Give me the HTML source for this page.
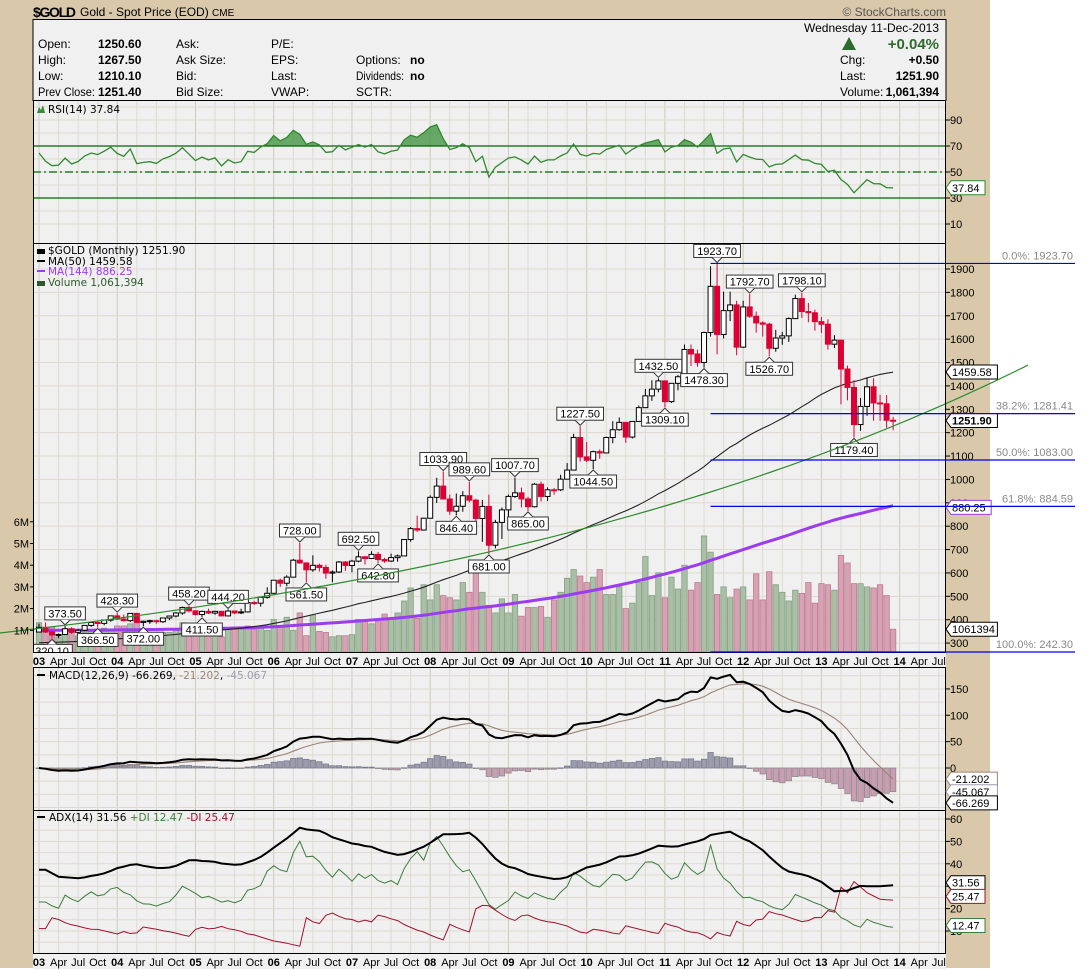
<!DOCTYPE html>
<html><head><meta charset="utf-8"><title>$GOLD Monthly Chart</title>
<style>
body{margin:0;background:#fff;}
svg{display:block;font-family:"Liberation Sans",Arial,sans-serif;}
.lg{font-family:"DejaVu Sans","Liberation Sans",sans-serif;font-size:10.5px;}
.ax{font-size:11px;fill:#000;}
</style></head>
<body>
<svg id="chart" width="1090" height="970" viewBox="0 0 1090 970">
  <rect x="0" y="0" width="1090" height="970" fill="#ffffff"/>
  <rect x="0" y="0" width="990" height="968" fill="#d9c9aa"/>
  <g>
    <text x="33" y="17" font-size="14" font-weight="bold" textLength="43">$GOLD</text>
    <text x="80" y="16" font-size="12">Gold - Spot Price (EOD) <tspan font-size="10">CME</tspan></text>
    <text x="946" y="16" font-size="12" fill="#555" text-anchor="end">© StockCharts.com</text>
  </g>
  <g>
    <rect x="33" y="19.5" width="913" height="81" fill="#f0f0f0" stroke="#000"/>
    <g font-size="12">
      <text x="38" y="48">Open:</text><text x="98" y="48" font-weight="bold">1250.60</text>
      <text x="38" y="64">High:</text><text x="98" y="64" font-weight="bold">1267.50</text>
      <text x="38" y="80">Low:</text><text x="98" y="80" font-weight="bold">1210.10</text>
      <text x="38" y="96" textLength="57" lengthAdjust="spacingAndGlyphs">Prev Close:</text><text x="98" y="96" font-weight="bold">1251.40</text>
      <text x="176" y="48">Ask:</text><text x="176" y="64">Ask Size:</text><text x="176" y="80">Bid:</text><text x="176" y="96">Bid Size:</text>
      <text x="271" y="48">P/E:</text><text x="271" y="64">EPS:</text><text x="271" y="80">Last:</text><text x="271" y="96">VWAP:</text>
      <text x="356" y="64">Options:</text><text x="410" y="64" font-weight="bold">no</text>
      <text x="356" y="80" textLength="48" lengthAdjust="spacingAndGlyphs">Dividends:</text><text x="410" y="80" font-weight="bold">no</text>
      <text x="356" y="96">SCTR:</text>
      <text x="939" y="32" text-anchor="end">Wednesday  11-Dec-2013</text>
      <text x="939" y="49" text-anchor="end" font-size="15" font-weight="bold" fill="#2d6b2d">+0.04%</text>
      <text x="840" y="64">Chg:</text><text x="939" y="64" text-anchor="end" font-weight="bold">+0.50</text>
      <text x="840" y="80">Last:</text><text x="939" y="80" text-anchor="end" font-weight="bold">1251.90</text>
      <text x="840" y="96">Volume:</text><text x="939" y="96" text-anchor="end" font-weight="bold">1,061,394</text>
    </g>
    <polygon points="849,37 842,50 856,50" fill="#2d6b2d"/>
  </g>
  <g id="rsiP"></g>
  <g id="mainP"></g>
  <g id="macdP"></g>
  <g id="adxP"></g>
  <g id="fibG"></g>
</svg>
<script>
// ---------- DATA (monthly, Jan 2003 .. Dec 2013) ----------
const firstOpen = 347.2;
const closes = [
367.5,347.5,334.9,336.8,361.4,346.0,354.8,375.6,388.0,384.3,398.4,416.3,
402.7,396.0,426.9,388.5,393.3,395.8,391.4,407.3,415.7,428.7,452.5,438.0,
422.2,435.5,428.6,435.7,416.2,437.1,429.0,433.3,473.3,470.8,495.7,513.0,
568.8,556.0,582.0,654.5,643.0,613.5,632.5,623.5,599.3,604.0,646.7,632.0,
650.5,669.0,661.8,679.4,657.4,650.9,665.5,672.7,743.0,789.5,783.5,834.0,
923.3,971.5,916.2,864.3,885.2,930.3,911.3,833.0,884.5,718.5,816.2,869.8,
927.3,942.5,916.5,883.2,979.5,927.2,955.6,955.5,1001.0,1040.0,1179.5,1096.2,
1081.8,1118.7,1113.3,1179.2,1212.5,1244.0,1181.2,1248.0,1307.0,1357.3,1386.1,1421.4,
1332.8,1411.0,1439.0,1556.0,1536.6,1500.2,1628.3,1826.0,1620.0,1722.0,1746.4,1565.8,
1737.8,1697.9,1669.3,1664.0,1560.9,1604.8,1614.0,1687.9,1773.5,1718.0,1712.8,1675.0,
1663.8,1578.5,1595.7,1472.2,1393.5,1234.6,1312.4,1396.1,1327.0,1323.6,1253.0,1251.9];
const highs = [
383.4,388.4,352.0,341.0,373.5,368.0,361.0,376.9,390.0,392.0,400.5,417.3,
428.3,422.0,428.0,427.3,396.0,399.5,399.7,409.0,415.9,432.0,456.0,458.2,
439.2,438.9,447.0,438.2,435.0,444.2,438.0,447.0,473.5,481.0,499.0,539.0,
569.8,576.0,590.0,660.0,728.0,643.0,675.0,640.0,635.0,611.0,651.0,651.0,
656.0,692.5,672.0,693.0,690.0,665.0,683.0,679.0,743.5,796.0,845.0,836.0,
932.0,1007.0,1033.9,935.0,940.0,950.0,989.6,917.0,912.0,935.0,827.0,880.0,
935.0,1007.7,965.0,926.0,985.0,991.0,966.0,963.0,1020.0,1070.0,1195.0,1227.5,
1160.0,1123.0,1128.0,1183.0,1249.0,1265.0,1211.0,1250.0,1316.0,1387.0,1424.0,1432.5,
1423.0,1412.0,1447.0,1577.0,1577.0,1555.0,1632.0,1912.0,1923.7,1803.0,1803.0,1764.0,
1764.0,1792.7,1718.0,1676.0,1670.0,1640.0,1631.0,1693.0,1790.0,1798.1,1755.0,1726.0,
1695.0,1685.0,1617.0,1597.0,1487.0,1424.0,1348.0,1434.0,1433.0,1362.0,1361.0,1267.5];
const lows = [
352.0,344.0,320.1,321.0,334.0,339.0,342.0,351.0,369.0,366.5,376.0,391.0,
399.0,392.0,390.0,385.0,372.0,382.0,383.0,386.0,398.0,410.0,421.0,431.0,
418.0,411.5,424.0,421.0,416.0,414.0,424.0,424.0,431.0,463.0,456.0,490.0,
516.0,540.0,543.0,583.0,639.0,561.5,605.0,606.0,575.0,560.0,600.0,609.0,
603.0,646.0,636.0,668.0,642.8,643.5,647.0,648.0,674.0,733.0,776.0,781.0,
845.0,899.0,914.0,849.0,846.4,862.0,902.0,786.0,733.0,681.0,705.0,745.0,
802.0,921.0,880.0,865.0,880.0,906.0,908.0,935.0,950.0,1000.0,1044.0,1076.0,
1074.0,1044.5,1088.0,1111.0,1155.0,1208.0,1156.0,1175.0,1247.0,1316.0,1336.0,1373.0,
1309.1,1327.0,1381.0,1422.0,1485.0,1482.0,1478.3,1611.0,1535.0,1603.0,1677.0,1531.0,
1563.0,1691.0,1628.0,1611.0,1526.7,1546.0,1576.0,1588.0,1689.0,1691.0,1672.0,1636.0,
1626.0,1555.0,1562.0,1321.0,1338.0,1179.4,1208.0,1272.0,1251.0,1251.0,1221.0,1210.1];
const volumesM = [
1.35,0.9,1.15,0.7,0.75,0.9,0.75,0.9,1.0,0.9,1.1,1.0,
1.2,1.2,1.3,1.5,1.0,0.8,0.8,0.9,0.9,1.0,1.35,1.3,
1.3,1.0,0.9,1.3,0.7,1.1,1.05,1.1,1.2,1.05,1.2,1.0,
1.5,1.2,1.6,1.0,1.8,0.75,1.7,0.95,0.9,0.7,0.75,0.75,
0.8,1.5,1.45,1.3,
1.4,1.75,1.5,1.8,2.35,2.95,1.55,3.1,2.4,3.1,
2.6,2.5,2.4,3.2,2.75,3.8,2.75,2.15,1.8,2.45,
1.8,2.65,1.65,2.05,2.05,2.1,1.6,2.4,2.75,3.4,
3.8,3.5,3.2,3.45,3.8,2.65,2.65,3.0,2.0,2.25,
3.2,4.4,2.6,3.65,2.5,3.45,2.9,4.0,2.85,3.2,
5.35,4.6,2.65,3.0,2.5,2.9,3.0,2.4,3.6,2.4,
3.7,3.1,2.75,2.35,2.85,2.7,3.2,2.25,3.15,3.1,
2.85,4.45,4.1,3.15,3.15,3.0,2.95,3.1,2.6,1.05];
const annotHighIdx = [4,12,23,29,40,49,62,66,73,83,95,104,109,117];
const annotLowIdx  = [2,9,16,25,41,52,64,69,75,85,96,102,112,125];
const ma50Pad = 300, ma144Pad = 355;
const trendIdx = [-6, 151.7];
const trendPrice = [343, 1489];
const fibHigh = 1923.7, fibLow = 242.3, fibStartIdx = 103;
const fibLevels = [0, 0.382, 0.5, 0.618, 1];
const priceTicks = [300,400,500,600,700,800,900,1000,1100,1200,1300,1400,1500,1600,1700,1800,1900];
const volTicks = [1,2,3,4,5,6];
const rsiTicks = [10,30,50,70,90];
const macdTicks = [0,50,100,150];
const adxTicks = [10,20,30,40,50,60];
const rsiLastLabel = ['37.84'];
const priceLabels = ['1459.58','1251.90','880.25'];
const macdLabels = ['-21.202','-45.067','-66.269'];
const adxLabels = ['31.56','25.47','12.47'];
const yearNames = ['03','04','05','06','07','08','09','10','11','12','13','14'];
const quarterNames = ['Apr','Jul','Oct'];

// ---------- SCALES ----------
const X0 = 39, STEP = 6.52, NMON = 140;
const xi = i => X0 + STEP * i;
const yP = p => 269 + (1900 - p) * 0.2338;
const yV = v => 652 - v * 21.7;
const yR = v => 237 - 1.3 * v;
const yM = v => 768 - 0.527 * v;
const yA = v => 953.4 - 2.24 * v;
const L = 33, R = 946;

const NS = 'http://www.w3.org/2000/svg';
function mk(tag, attrs, parent){const e=document.createElementNS(NS,tag);for(const k in attrs)e.setAttribute(k,attrs[k]);parent.appendChild(e);return e;}
function tx(x,y,s,attrs,parent){const e=mk('text',Object.assign({x:x,y:y},attrs),parent);e.textContent=s;return e;}
const svg = document.getElementById('chart');
const n = closes.length;
const opens = closes.map((c,i)=> i===0 ? firstOpen : closes[i-1]);

// ---------- INDICATORS ----------
function maCalc(len,pad){return closes.map((c,i)=>{let s=0;for(let k=i-len+1;k<=i;k++)s+=(k<0?pad:closes[k]);return s/len;});}
const ma50 = maCalc(50,ma50Pad), ma144 = maCalc(144,ma144Pad);
const rsi=[]; {let ag=0,al=0;for(let k=1;k<=14;k++){const d=closes[k]-closes[k-1];if(d>0)ag+=d;else al-=d;}ag/=14;al/=14;
 for(let i=0;i<n;i++){if(i>0){const d=closes[i]-closes[i-1];ag=(ag*13+Math.max(d,0))/14;al=(al*13+Math.max(-d,0))/14;}rsi.push(100-100/(1+ag/al));}}
const macd=[],sig=[],hist=[]; {let e12=closes[0],e26=closes[0],s=0;
 for(let i=0;i<n;i++){e12=closes[i]*2/13+e12*11/13;e26=closes[i]*2/27+e26*25/27;const m=e12-e26;s=i===0?m:m*0.2+s*0.8;macd.push(m);sig.push(s);hist.push(m-s);}}
const adx=[],pdi=[],mdi=[]; {
 const tr=[],pd=[],md=[];
 for(let i=1;i<n;i++){const h=highs[i],l=lows[i],cp=closes[i-1];tr.push(Math.max(h-l,Math.abs(h-cp),Math.abs(l-cp)));
  const up=h-highs[i-1],dn=lows[i-1]-l;pd.push(up>dn&&up>0?up:0);md.push(dn>up&&dn>0?dn:0);}
 let a=0,p=0,m=0;for(let k=0;k<14;k++){a+=tr[k];p+=pd[k];m+=md[k];}a/=14;p/=14;m/=14;
 const dxs=[];
 for(let k=0;k<tr.length;k++){a=(a*13+tr[k])/14;p=(p*13+pd[k])/14;m=(m*13+md[k])/14;const P=100*p/a,M=100*m/a;pdi.push(P);mdi.push(M);dxs.push(100*Math.abs(P-M)/(P+M||1));}
 let ax=0;for(let k=0;k<14;k++)ax+=dxs[k];ax/=14;const out=[];
 for(let k=0;k<dxs.length;k++){ax=(ax*13+dxs[k])/14;out.push(ax);}
 adx.push(out[0]);pdi.unshift(pdi[0]);mdi.unshift(mdi[0]);out.forEach(v=>adx.push(v));
}

// ---------- PANEL FRAMEWORK ----------
function panel(g,top,bot,name){
  const bg=mk('rect',{x:L,y:top,width:R-L,height:bot-top,fill:'#f0f0f0'},g);
  
  
  for(let i=0;i<NMON;i+=3){const ln=mk('line',{x1:xi(i),x2:xi(i),y1:top,y2:bot,stroke:i%12===0?'#cfcabb':'#dedad0','stroke-width':1},g);
    
    }
  const cp=mk('clipPath',{id:'clip-'+name},g);mk('rect',{x:L,y:top,width:R-L,height:bot-top},cp);
  const inner=mk('g',{'clip-path':'url(#clip-'+name+')'},g);
  
  
  return inner;
}
function hgrid(g,y){const ln=mk('line',{x1:L,x2:R,y1:y,y2:y,stroke:'#dedad0'},g);
  
  }
function frame(g,top,bot,name){const f=mk('rect',{x:L+0.5,y:top+0.5,width:R-L-1,height:bot-top,fill:'none',stroke:'#000'},g);
  
  }
function yTick(g,y,label){const t=mk('line',{x1:R,x2:R+4,y1:y,y2:y,stroke:'#000'},g);
  
  
  const s=tx(R+4,y+4,label,{class:'ax'},g);
  
  }
function valBox(g,y,label,stroke,bold){const w=label.length*6.2+8;
  const p=mk('polygon',{points:`${R},${y} ${R+5},${y-7} ${R+w},${y-7} ${R+w},${y+7} ${R+5},${y+7}`,fill:'#fff',stroke:stroke},g);
  
  
  const s=tx(R+6,y+4,label,{class:'ax','font-weight':bold?'bold':'normal'},g);
  
  }
function polyPath(vals,fy,start){let d='';for(let i=start||0;i<vals.length;i++){d+=(d?'L':'M')+xi(i).toFixed(1)+','+fy(vals[i]).toFixed(1);}return d;}
function xLabels(g,y){
  const bgRow=mk('rect',{x:L,y:y-12,width:R-L,height:15,fill:'#f0f0f0'},g);
  
  
  for(let i=0;i<NMON;i+=3){const isY=i%12===0;const lab=isY?yearNames[i/12]:quarterNames[(i%12)/3-1];
    const s=tx(xi(i),y,lab,{class:'ax','text-anchor':'middle','font-weight':isY?'bold':'normal','font-size':isY?12:11},g);
    
    }
}

// ---------- RSI PANEL ----------
{const g=document.getElementById('rsiP');const top=100,bot=243;const pa=panel(g,top,bot,'rsi');
 for(let v=10;v<=100;v+=10)hgrid(pa,yR(v));
 const cpa=mk('clipPath',{id:'rsiOB'},g);mk('rect',{x:L,y:top,width:R-L,height:yR(70)-top},cpa);
 const area=mk('path',{d:'M'+xi(0)+','+yR(70)+polyPath(rsi,yR).replace(/^M/,'L')+'L'+xi(n-1)+','+yR(70)+'Z',fill:'#4f9a4f',opacity:0.85,'clip-path':'url(#rsiOB)'},pa);
 
 
 [70,30].forEach(v=>{const l=mk('line',{x1:L,x2:R,y1:yR(v),y2:yR(v),stroke:'#006600','stroke-width':1.3},pa);
   
   });
 const mid=mk('line',{x1:L,x2:R,y1:yR(50),y2:yR(50),stroke:'#006600','stroke-width':1.2,'stroke-dasharray':'8,3,2,3'},pa);
 
 
 const ln=mk('path',{d:polyPath(rsi,yR),fill:'none',stroke:'#2f8a2f','stroke-width':1.3},pa);
 
 
 frame(g,top,bot,'rsi');
 rsiTicks.forEach(v=>yTick(g,yR(v),String(v)));
 valBox(g,yR(parseFloat(rsiLastLabel[0])),rsiLastLabel[0],'#2f8a2f',false);
 const ic=mk('path',{d:'M37,113 L39,107 L41,110 L43,105 L45,113 Z',fill:'#3a8a3a'},g);
 
 
 const lt=tx(48,113,'RSI(14) 37.84',{class:'lg'},g);
 
 
}

// ---------- PRICE PANEL ----------
{const g=document.getElementById('mainP');const top=243,bot=652;const pa=panel(g,top,bot,'price');
 priceTicks.forEach(p=>hgrid(pa,yP(p)));
 volumesM.forEach((v,i)=>{const up=i===0?true:closes[i]>=closes[i-1];
   const b=mk('rect',{x:xi(i)-2.7,y:yV(v),width:5.4,height:bot-yV(v),fill:up?'#a9bfa6':'#d6a3b5',stroke:up?'#86a083':'#c07890','stroke-width':0.8},pa);
   
   });
 {let d='';const a=Math.log(trendPrice[0]),b=Math.log(trendPrice[1]);
  for(let t=0;t<=60;t++){const f=t/60;const i=trendIdx[0]+(trendIdx[1]-trendIdx[0])*f;const p=Math.exp(a+(b-a)*f);d+=(t?'L':'M')+xi(i).toFixed(1)+','+yP(p).toFixed(1);}
  const tl=mk('path',{d:d,fill:'none',stroke:'#2e8b2e','stroke-width':1.2},g);
  
  }
 const m144=mk('path',{d:polyPath(ma144,yP),fill:'none',stroke:'#9b3cf0','stroke-width':3},pa);
 
 
 const m50=mk('path',{d:polyPath(ma50,yP),fill:'none',stroke:'#222','stroke-width':1.1},pa);
 
 
 for(let i=0;i<n;i++){const up=closes[i]>=opens[i];const col=up?'#000':'#dd0033';
   const w=mk('line',{x1:xi(i),x2:xi(i),y1:yP(highs[i]),y2:yP(lows[i]),stroke:col,'stroke-width':1},pa);
   
   
   const yt=yP(Math.max(opens[i],closes[i])),yb=yP(Math.min(opens[i],closes[i]));
   const c=mk('rect',{x:xi(i)-2.5,y:yt,width:5,height:Math.max(yb-yt,1),fill:up?'#fff':'#dd0033',stroke:col,'stroke-width':1},pa);
   
   }
 function annot(i,above){const v=above?highs[i]:lows[i];const s=v.toFixed(2);const w=s.length*6.1+4;const x=xi(i);const y=yP(v);
   const by=above?y-19:y+6;
   const pt=above?`${x-5},${by+13} ${x},${y-1} ${x+5},${by+13}`:`${x-5},${by} ${x},${y+1} ${x+5},${by}`;
   const r=mk('rect',{x:x-w/2,y:by,width:w,height:13,fill:'#fff',stroke:'#333'},pa);
   
   
   const p=mk('polyline',{points:pt,fill:'#fff',stroke:'#333'},pa);
   
   
   const t=tx(x,by+10.5,s,{'font-size':11,'text-anchor':'middle'},pa);
   
   }
 annotHighIdx.forEach(i=>annot(i,true));
 annotLowIdx.forEach(i=>annot(i,false));
 frame(g,top,bot,'price');
 priceTicks.forEach(p=>yTick(g,yP(p),String(p)));
 volTicks.forEach(v=>{const t=mk('line',{x1:L-3,x2:L,y1:yV(v),y2:yV(v),stroke:'#000'},g);
   
   
   const s=tx(L-4,yV(v)+4,v+'M',{class:'ax','text-anchor':'end'},g);
   
   });
 valBox(g,yP(parseFloat(priceLabels[0])),priceLabels[0],'#000',false);
 valBox(g,yP(parseFloat(priceLabels[1])),priceLabels[1],'#000',true);
 valBox(g,yP(parseFloat(priceLabels[2])),priceLabels[2],'#9b3cf0',false);
 valBox(g,yV(volumesM[n-1]),'1061394','#000',false);
 const leg=[['$GOLD (Monthly) 1251.90','#000',254],['MA(50) 1459.58','#000',265],['MA(144) 886.25','#9b3cf0',275],['Volume 1,061,394','#2d5a2d',286]];
 leg.forEach((l,k)=>{const t=tx(48,l[2],l[0],{class:'lg',fill:l[1]},g);
   
   
   const ic=mk('rect',{x:37,y:l[2]-5,width:8,height:k===0||k===3?5:2,fill:l[1]},g);
   
   });
 xLabels(g,665);
}

// ---------- FIBONACCI ----------
{const g=document.getElementById('fibG');
 fibLevels.forEach(f=>{const p=fibHigh-(fibHigh-fibLow)*f;const y=Math.min(yP(p),652);
   const l=mk('line',{x1:xi(fibStartIdx),x2:1075,y1:y,y2:y,stroke:'#0000ee','stroke-width':1.2},g);
   
   
   const t=tx(1073,(f===1?648:y-4),(f*100).toFixed(1)+'%: '+p.toFixed(2),{'font-size':11,fill:'#888','text-anchor':'end'},g);
   
   });
}

// ---------- MACD PANEL ----------
{const g=document.getElementById('macdP');const top=667,bot=810;const pa=panel(g,top,bot,'macd');
 for(let v=-75;v<=175;v+=25)hgrid(pa,yM(v));
 hist.forEach((h,i)=>{const y0=yM(0),y1=yM(h);const pos=h>=0;
   const b=mk('rect',{x:xi(i)-2.7,y:Math.min(y0,y1),width:5.4,height:Math.max(Math.abs(y1-y0),0.5),fill:pos?'#9c9cae':'#cc9cb2',stroke:pos?'#7a7a8c':'#8a8a8a','stroke-width':0.8},pa);
   
   });
 const s=mk('path',{d:polyPath(sig,yM),fill:'none',stroke:'#9a8478','stroke-width':1.1},pa);
 
 
 const m=mk('path',{d:polyPath(macd,yM),fill:'none',stroke:'#000','stroke-width':2},pa);
 
 
 frame(g,top,bot,'macd');
 macdTicks.forEach(v=>yTick(g,yM(v),String(v)));
 valBox(g,yM(parseFloat(macdLabels[0])),macdLabels[0],'#9a8478',false);
 valBox(g,yM(parseFloat(macdLabels[1])),macdLabels[1],'#9c9cae',false);
 valBox(g,yM(parseFloat(macdLabels[2])),macdLabels[2],'#000',false);
 const ic=mk('line',{x1:37,x2:45,y1:675,y2:675,stroke:'#000','stroke-width':2},g);
 
 
 const t=mk('text',{x:49,y:679,class:'lg'},g);
 
 
 t.innerHTML='MACD(12,26,9) -66.269, <tspan fill="#9a8478">-21.202</tspan>, <tspan fill="#9c9cae">-45.067</tspan>';
}

// ---------- ADX PANEL ----------
{const g=document.getElementById('adxP');const top=810,bot=953;const pa=panel(g,top,bot,'adx');
 for(let v=0;v<=60;v+=5)hgrid(pa,yA(v));
 const p=mk('path',{d:polyPath(pdi,yA),fill:'none',stroke:'#3d7d3d','stroke-width':1},pa);
 
 
 const m=mk('path',{d:polyPath(mdi,yA),fill:'none',stroke:'#a01030','stroke-width':1},pa);
 
 
 const a=mk('path',{d:polyPath(adx,yA),fill:'none',stroke:'#000','stroke-width':2},pa);
 
 
 frame(g,top,bot,'adx');
 adxTicks.forEach(v=>yTick(g,yA(v),String(v)));
 valBox(g,yA(parseFloat(adxLabels[0])),adxLabels[0],'#000',false);
 valBox(g,yA(parseFloat(adxLabels[1])),adxLabels[1],'#a01030',false);
 valBox(g,yA(parseFloat(adxLabels[2])),adxLabels[2],'#3d7d3d',false);
 const ic=mk('line',{x1:37,x2:45,y1:817,y2:817,stroke:'#000','stroke-width':2},g);
 
 
 const t=mk('text',{x:49,y:821,class:'lg'},g);
 
 
 t.innerHTML='ADX(14) 31.56 <tspan fill="#3d7d3d">+DI 12.47</tspan> <tspan fill="#a01030">-DI 25.47</tspan>';
 xLabels(g,966);
}
</script>
</body></html>
